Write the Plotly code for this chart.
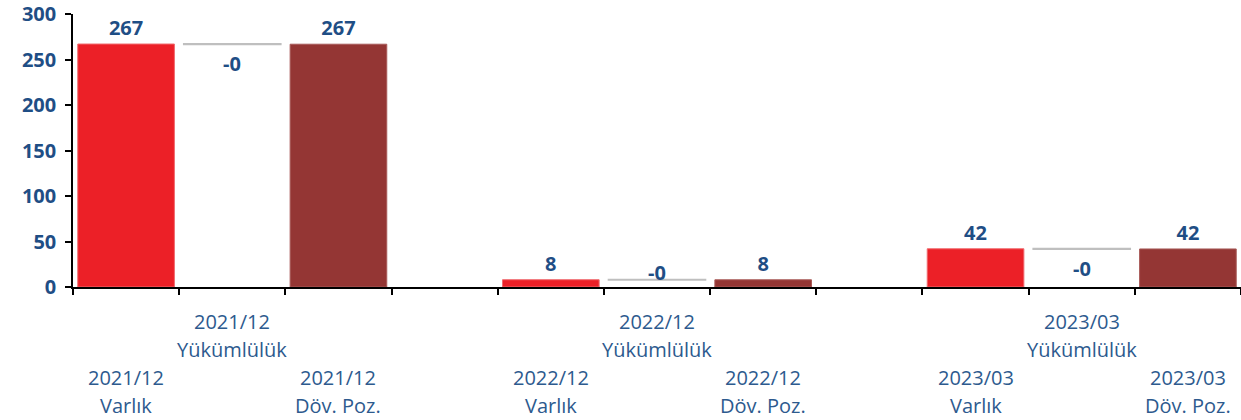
import plotly.graph_objects as go

# Currency position by period (three components per period)
periods = ["2021/12", "2022/12", "2023/03"]
series_names = ["Varlık", "Yükümlülük", "Döv. Poz."]
varlik = [267, 8, 42]
yukumluluk = [-0.2, -0.1, -0.2]
doviz_poz = [266.8, 7.9, 41.8]
y_ticks = [0, 50, 100, 150, 200, 250, 300]

RED = "#EC2027"
DARK_RED = "#943634"
GREY = "#BFBFBF"
LABEL_BLUE = "#1F4E85"
TICK_BLUE = "#2D5A8E"
FONT = "Open Sans"

GROUP_STEP = 4  # three bars plus one empty slot between periods
x_var = [i * GROUP_STEP for i in range(len(periods))]
x_yuk = [x + 1 for x in x_var]
x_dov = [x + 2 for x in x_var]
n_slots = x_dov[-1] + 1

BOLD = dict(family=FONT, size=20, color=LABEL_BLUE, weight="bold")
BAR_W = 0.91

fig = go.Figure()
fig.add_trace(go.Bar(
    x=x_var, y=varlik, width=BAR_W, marker_color=RED,
    marker_line=dict(color="#F06A6F", width=1),
    text=[f"{v:.0f}" for v in varlik], textposition="outside",
    textfont=BOLD, cliponaxis=False, name=series_names[0],
))
# floating step: starts at the asset level and moves by the liability value
fig.add_trace(go.Bar(
    x=x_yuk, y=yukumluluk, base=varlik, width=BAR_W, marker_color=GREY,
    marker_line=dict(color=GREY, width=2), name=series_names[1],
))
fig.add_trace(go.Bar(
    x=x_dov, y=doviz_poz, width=BAR_W, marker_color=DARK_RED,
    marker_line=dict(color="#A85A58", width=1),
    text=[f"{v:.0f}" for v in doviz_poz], textposition="outside",
    textfont=BOLD, cliponaxis=False, name=series_names[2],
))

annotations = []
PLOT_H = 275
Y_MAX = y_ticks[-1]
px_per_unit = PLOT_H / Y_MAX
for x, b, v in zip(x_yuk, varlik, yukumluluk):
    end = b + v
    txt = f"{v:.0f}"
    if end * px_per_unit < 28:
        annotations.append(dict(x=x, y=0, xref="x", yref="y", text=txt,
                                showarrow=False, yanchor="bottom", yshift=-1,
                                font=BOLD))
    else:
        annotations.append(dict(x=x, y=end, xref="x", yref="y", text=txt,
                                showarrow=False, yanchor="top", yshift=-4,
                                font=BOLD))

# staggered two-line category labels under the axis
ROW0 = -34
ROW_STEP = 28
for p, xs in zip(periods, zip(x_var, x_yuk, x_dov)):
    for k, (x, name) in enumerate(zip(xs, series_names)):
        first_row = 0 if k == 1 else 2
        for j, line in enumerate([p, name]):
            annotations.append(dict(
                x=x, y=0, xref="x", yref="paper", text=line, showarrow=False,
                yanchor="middle", yshift=ROW0 - (first_row + j) * ROW_STEP,
                font=dict(family=FONT, size=20, color=TICK_BLUE),
            ))

fig.update_layout(
    width=1241, height=420,
    margin=dict(l=73, r=0, t=12, b=133),
    paper_bgcolor="white", plot_bgcolor="white",
    showlegend=False, barmode="overlay",
    annotations=annotations,
)
fig.update_xaxes(
    range=[-0.5, n_slots - 0.5],
    tickvals=[i - 0.5 for i in range(n_slots + 1)],
    ticktext=["" for _ in range(n_slots + 1)],
    ticks="outside", ticklen=6, tickcolor="#000000", tickwidth=1.5,
    showline=True, linecolor="#000000", linewidth=1.5,
    showgrid=False, zeroline=False,
)
fig.update_yaxes(
    range=[0, Y_MAX], tickvals=y_ticks,
    ticks="outside", ticklen=6, tickcolor="#000000", tickwidth=1.5,
    showline=True, linecolor="#000000", linewidth=1.5,
    showgrid=False, zeroline=False, ticklabelstandoff=5,
    ticklabeloverflow="allow",
    tickfont=BOLD,
)

fig.write_html("out.html")
